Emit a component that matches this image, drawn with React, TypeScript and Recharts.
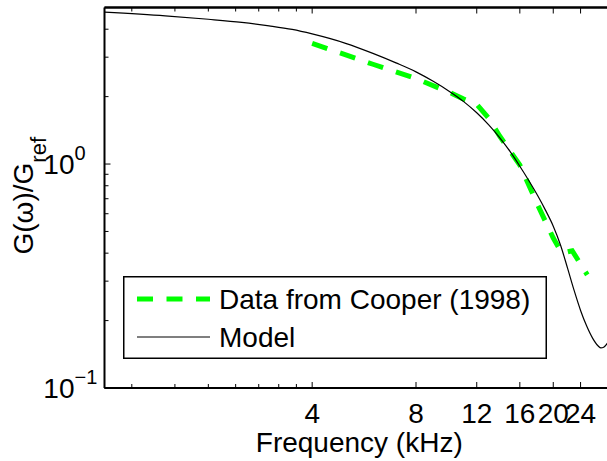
import React from 'react'
import { LineChart, Line, XAxis, YAxis, Legend, ReferenceLine } from 'recharts'

const FONT = '"Liberation Sans", Arial, Helvetica, sans-serif'

// data from Cooper (1998), frequency in kHz
const cooperFreq = [4, 6, 8, 10, 11, 12, 13, 14, 16, 18, 20, 21.2, 22.7, 25.1]
const cooperGain = [3.46, 2.79, 2.41, 2.09, 1.95, 1.85, 1.6, 1.33, 0.99, 0.66, 0.467, 0.4, 0.41, 0.32]

// model curve
const modelFreq = [1, 1.5, 2, 2.5, 3, 3.5, 4, 5, 6, 7, 8, 9, 10, 11, 12, 13, 14, 15, 16, 17, 18, 19, 20, 21, 22, 23, 24, 25, 26, 27, 27.5, 28, 29, 30]
const modelGain = [4.77, 4.59, 4.43, 4.29, 4.14, 3.99, 3.81, 3.46, 3.12, 2.83, 2.58, 2.335, 2.11, 1.9, 1.694, 1.497, 1.31, 1.136, 0.978, 0.842, 0.725, 0.621, 0.528, 0.434, 0.343, 0.272, 0.222, 0.189, 0.167, 0.154, 0.151, 0.152, 0.162, 0.174]

const xMajorTicks = [4, 8, 12, 16, 20, 24]
const xMinorTicks = [1.2, 1.6, 2, 2.4, 2.8, 3.2, 3.6]
const yMajorTicks = [0.1, 1]
const yMinorTicks = [0.2, 0.3, 0.4, 0.5, 0.6, 0.7, 0.8, 0.9, 2, 3, 4]

const cooperData = cooperFreq.map((f, i) => ({ f, g: cooperGain[i] }))
const modelData = modelFreq.map((f, i) => ({ f, g: modelGain[i] }))

const xTicks = [...xMinorTicks, ...xMajorTicks]
const yTicks = [...yMajorTicks, ...yMinorTicks].sort((a, b) => a - b)

const GREEN = '#00ff00'
const DASH = '16 13.5'

const XTick = (props: any) => {
  const { x, y, payload, side } = props
  const major = xMajorTicks.includes(payload.value)
  const len = major ? 6 : 4
  const dir = side === 'top' ? 1 : -1
  return (
    <g>
      <line x1={x} y1={y} x2={x} y2={y + dir * len} stroke="#000" strokeWidth={1} />
      {side === 'bottom' && major && (
        <text x={x} y={y + 35} textAnchor="middle" fontSize={28} fontFamily={FONT} fill="#000">
          {payload.value}
        </text>
      )}
    </g>
  )
}

const YTick = (props: any) => {
  const { x, y, payload } = props
  const major = yMajorTicks.includes(payload.value)
  const exp = Math.round(Math.log10(payload.value))
  return (
    <g>
      <line x1={x} y1={y} x2={x + (major ? 6 : 4)} y2={y} stroke="#000" strokeWidth={1} />
      {major && (
        <text x={x - 30} y={y + 10} textAnchor="end" fontSize={28} fontFamily={FONT} fill="#000">
          10
        </text>
      )}
      {major && (
        <text x={x - 30} y={y - 4} fontSize={20} fontFamily={FONT} fill="#000">
          {exp < 0 ? '\u2212' + Math.abs(exp) : exp}
        </text>
      )}
    </g>
  )
}

const XLabel = (props: any) => {
  const { x, y, width } = props.viewBox
  return (
    <text x={x + width / 2} y={y + 64} textAnchor="middle" fontSize={28} fontFamily={FONT} fill="#000">
      Frequency (kHz)
    </text>
  )
}

const YLabel = (props: any) => {
  const { x, y, height } = props.viewBox
  const cx = x + 33
  const cy = y + height / 2 - 2
  return (
    <text
      x={cx}
      y={cy}
      transform={`rotate(-90 ${cx} ${cy})`}
      textAnchor="middle"
      fontSize={28}
      fontFamily={FONT}
      fill="#000"
    >
      G(ω)/G
      <tspan fontSize={22} dy={13}>ref</tspan>
    </text>
  )
}

const renderLegend = () => (
  <svg width={424} height={83} style={{ display: 'block' }}>
    <rect x={0.75} y={0.75} width={422.5} height={81.5} fill="#fff" stroke="#000" strokeWidth={1.5} />
    <line x1={14} y1={23} x2={87} y2={23} stroke={GREEN} strokeWidth={5} strokeDasharray={DASH} />
    <text x={96} y={33} fontSize={28} fontFamily={FONT} fill="#000">
      Data from Cooper (1998)
    </text>
    <line x1={14} y1={61} x2={87} y2={61} stroke="#000" strokeWidth={1.2} />
    <text x={96} y={71} fontSize={28} fontFamily={FONT} fill="#000">
      Model
    </text>
  </svg>
)

export default function App() {
  return (
    <div
      style={{
        position: 'absolute',
        left: 0,
        top: 0,
        width: 607,
        height: 461,
        overflow: 'hidden',
        background: '#fff',
      }}
    >
      <LineChart width={640} height={461} margin={{ top: 6.5, right: 26, bottom: 0, left: 0 }}>
        <XAxis
          xAxisId="bottom"
          dataKey="f"
          type="number"
          scale="log"
          domain={[1, 30]}
          allowDataOverflow
          ticks={xTicks}
          interval={0}
          height={73}
          tickSize={0}
          tickMargin={0}
          tickLine={false}
          tick={<XTick side="bottom" />}
          axisLine={{ stroke: '#000', strokeWidth: 2 }}
          label={<XLabel />}
        />
        <XAxis
          xAxisId="top"
          orientation="top"
          dataKey="f"
          type="number"
          scale="log"
          domain={[1, 30]}
          allowDataOverflow
          ticks={xTicks}
          interval={0}
          height={1}
          tickSize={0}
          tickMargin={0}
          tickLine={false}
          tick={<XTick side="top" />}
          axisLine={{ stroke: '#000', strokeWidth: 2 }}
        />
        <YAxis
          dataKey="g"
          type="number"
          scale="log"
          domain={[0.1, 5]}
          allowDataOverflow
          ticks={yTicks}
          interval={0}
          width={104.5}
          tickSize={0}
          tickMargin={0}
          tickLine={false}
          tick={<YTick />}
          axisLine={{ stroke: '#000', strokeWidth: 2 }}
          label={<YLabel />}
        />
        <ReferenceLine xAxisId="bottom" y={0.1} stroke="#000" strokeWidth={2} />
        <ReferenceLine xAxisId="bottom" y={5} stroke="#000" strokeWidth={2} />
        <Legend
          layout="horizontal"
          verticalAlign="middle"
          align="center"
          content={renderLegend}
          wrapperStyle={{ left: 123, top: 276, width: 424, height: 83 }}
        />
        <Line
          xAxisId="bottom"
          data={cooperData}
          dataKey="g"
          name="Data from Cooper (1998)"
          type="linear"
          stroke={GREEN}
          strokeWidth={5}
          strokeDasharray={DASH}
          dot={false}
          activeDot={false}
          isAnimationActive={false}
        />
        <Line
          xAxisId="bottom"
          data={modelData}
          dataKey="g"
          name="Model"
          type="monotone"
          stroke="#000"
          strokeWidth={1.2}
          dot={false}
          activeDot={false}
          isAnimationActive={false}
        />
      </LineChart>
    </div>
  )
}
